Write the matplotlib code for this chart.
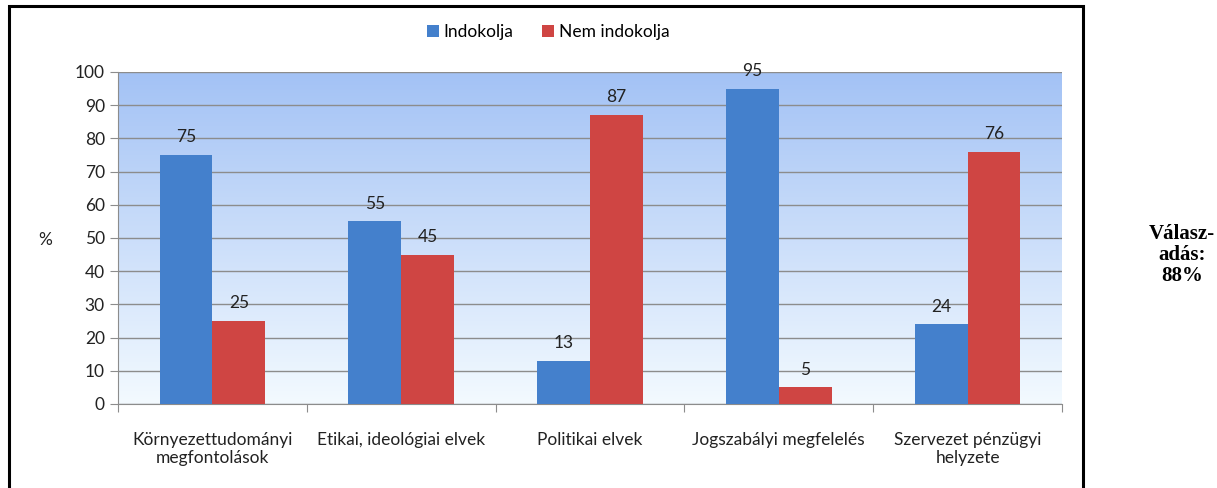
import numpy as np
import matplotlib.pyplot as plt
from matplotlib.patches import Rectangle
from matplotlib.colors import LinearSegmentedColormap

# ---------------------------
# adatok
# ---------------------------
categories = ["Környezettudományi\nmegfontolások", "Etikai, ideológiai elvek",
              "Politikai elvek", "Jogszabályi megfelelés",
              "Szervezet pénzügyi\nhelyzete"]
indokolja = [75, 55, 13, 95, 24]
nem_indokolja = [25, 45, 87, 5, 76]
series_names = ["Indokolja", "Nem indokolja"]
yticks = list(range(0, 101, 10))

plt.rcParams['font.family'] = ['Lato', 'DejaVu Sans']
fs = 12.5

fig = plt.figure(figsize=(12.17, 4.88), dpi=100)
ax = fig.add_axes([118/1217, 1 - 404/488, (1062-118)/1217, (404-72)/488])

# háttér színátmenet (fent kék, lent majdnem fehér)
cmap = LinearSegmentedColormap.from_list("bg", ["#F3FAFF", "#A3C2F5"])
grad = np.linspace(0, 1, 256).reshape(-1, 1)
ax.imshow(grad, aspect='auto', cmap=cmap, extent=[-0.5, 4.5, 0, 100],
          origin='lower', zorder=0)

x = np.arange(len(categories))
w = 0.28
b1 = ax.bar(x - w/2, indokolja, w, color='#4480CC', label=series_names[0], zorder=3)
b2 = ax.bar(x + w/2, nem_indokolja, w, color='#CF4543', label=series_names[1], zorder=3)

for bars in (b1, b2):
    for r in bars:
        ax.annotate(f"{r.get_height():.0f}", (r.get_x() + r.get_width()/2, r.get_height()),
                    xytext=(0, 7), textcoords='offset points', ha='center', va='bottom',
                    fontsize=fs, color='#222222')

ax.set_xlim(-0.5, 4.5)
ax.set_ylim(0, 100)
ax.set_yticks(yticks)
ax.yaxis.grid(True, color='#8C8C8C', lw=1, zorder=1)
ax.set_axisbelow(False)
ax.set_xticks(np.arange(-0.5, 5, 1))
ax.set_xticklabels([])
ax.set_xticks(x, minor=True)
ax.set_xticklabels(categories, minor=True, fontsize=fs, color='#222222')
ax.tick_params(axis='x', which='minor', length=0, pad=20)
ax.tick_params(axis='x', which='major', length=6, color='#8C8C8C')
ax.tick_params(axis='y', length=6, color='#8C8C8C', labelsize=fs, labelcolor='#222222')
for s in ['top', 'right']:
    ax.spines[s].set_visible(False)
ax.spines['left'].set_color('#8C8C8C')
ax.spines['bottom'].set_color('#8C8C8C')

fig.text(45/1217, 1 - 240/488, "%", ha='center', va='center', fontsize=fs, color='#222222')

leg = fig.legend(loc='center', bbox_to_anchor=(548/1217, 1 - 32/488), ncol=2, frameon=False,
                 fontsize=fs, handlelength=0.7, handleheight=0.7, columnspacing=1.6,
                 handletextpad=0.3)

# keret
fig.patches.append(Rectangle((9/1217, -0.1), (1083-9)/1217, 1.1 - 6/488, transform=fig.transFigure,
                             fill=False, lw=2.2, ec='black'))

fig.text(1182/1217, 1 - 255/488, "Válasz-\nadás:\n88%", ha='center', va='center',
         fontsize=15, fontweight='bold', family=['Liberation Serif', 'DejaVu Serif'],
         linespacing=1.05)

plt.savefig("out.png", dpi=100)
